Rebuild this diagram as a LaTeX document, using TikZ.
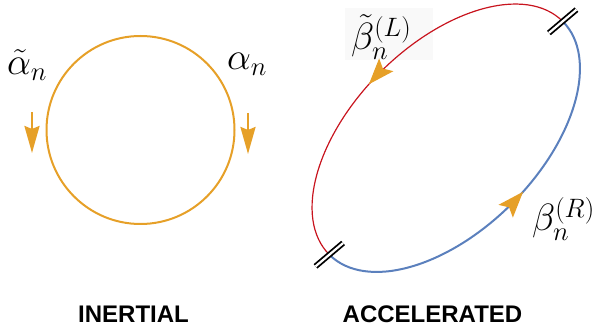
\RequirePackage{fix-cm}
\documentclass[tikz,border=0pt]{standalone}
\usepackage{fontspec}
\newfontfamily\capfont{Liberation Sans}
\usetikzlibrary{arrows.meta,decorations.markings}
\definecolor{orangec}{HTML}{E6A028}
\definecolor{redc}{HTML}{C8141E}
\definecolor{bluec}{HTML}{5B80BD}
\begin{document}
\begin{tikzpicture}[x=1pt,y=1pt,
  mathlbl/.style={inner sep=0pt, anchor=base west, font=\fontsize{38}{40}\selectfont},
  caption/.style={font=\capfont\bfseries\fontsize{24}{28}\selectfont, inner sep=0pt, anchor=base},
  flowarrow/.style={orangec, line width=2.5pt, -{Stealth[length=27pt,width=15pt,inset=3pt]}},
  hatch/.style={draw=black, double=white, line width=1.8pt, double distance=2.2pt},
  midarrow/.style={postaction={decorate}, decoration={markings, mark=at position 0.54 with {\arrow[orangec]{Stealth[length=26pt,width=19pt,inset=5pt]}}}},
  ]
\useasboundingbox (0,0) rectangle (595,329);
% ---------- inertial ----------
\coordinate (C) at (140.5,199);
\draw[orangec, line width=2pt] (C) circle[radius=94];
\coordinate (la1) at (32,217);
\coordinate (la2) at (32,176);
\coordinate (ra1) at (248,216);
\coordinate (ra2) at (248,175);
\draw[flowarrow] (la1) -- (la2);
\draw[flowarrow] (ra1) -- (ra2);
\node[mathlbl] (atil) at (7,254) {$\tilde{\alpha}_n$};
\node[mathlbl] (alp) at (227,259) {$\alpha_n$};
\node[caption] (inert) at (133.5,6) {INERTIAL};
% ---------- accelerated ----------
\fill[black!2.5] (345,269) rectangle (433,321);
\coordinate (E) at (446,191);
\begin{scope}[shift={(E)}, rotate=45]
  \coordinate (h1) at (165,0);
  \coordinate (h2) at (-165,0);
  \draw[redc, line width=1.2pt, midarrow] (h1) arc[start angle=0, end angle=180, x radius=165, y radius=93];
  \draw[bluec, line width=2pt, midarrow] (h2) arc[start angle=180, end angle=360, x radius=165, y radius=93];
  \coordinate (h1a) at (147,1.5);
  \coordinate (h1b) at (183,-1.5);
  \coordinate (h2a) at (-147,-1.5);
  \coordinate (h2b) at (-183,1.5);
  \draw[hatch] (h1a) -- (h1b);
  \draw[hatch] (h2a) -- (h2b);
\end{scope}
\node[mathlbl] (bl) at (351,279) {$\tilde{\beta}_n^{(L)}$};
\node[mathlbl] (br) at (532,98) {$\beta_n^{(R)}$};
\node[caption] (accel) at (432.5,6) {ACCELERATED};
\end{tikzpicture}
\end{document}
